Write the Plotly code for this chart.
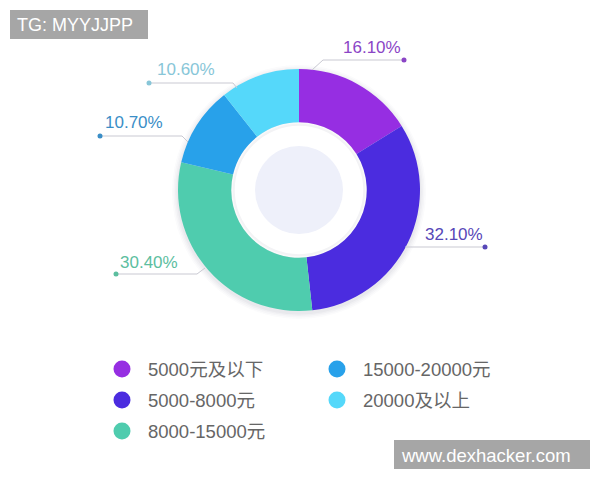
import plotly.graph_objects as go

categories = ["5000元及以下", "5000-8000元", "8000-15000元", "15000-20000元", "20000及以上"]
values = [16.10, 32.10, 30.40, 10.70, 10.60]
label_texts = ["16.10%", "32.10%", "30.40%", "10.70%", "10.60%"]

slice_colors = ["#962EE2", "#4B2CDF", "#4FCCAE", "#28A1EA", "#55D8FA"]
label_colors = ["#8B45C6", "#5747B8", "#5CBE9F", "#3A8EC7", "#88C6D8"]

W, H = 600, 480
OFF = 8  # page body margin
CX, CY, R = 299, 190, 121
HOLE = 0.56


def px(x):
    return (x - OFF) / W


def py(y):
    return 1 - (y - OFF) / H


def circle(cx, cy, r, color, layer="above"):
    return dict(type="circle", xref="paper", yref="paper", layer=layer,
                x0=px(cx - r), x1=px(cx + r), y0=py(cy + r), y1=py(cy - r),
                fillcolor=color, line=dict(width=0))


fig = go.Figure()
fig.add_trace(go.Pie(
    labels=categories, values=values, sort=False, direction="clockwise", rotation=0,
    hole=HOLE, marker=dict(colors=slice_colors, line=dict(width=0)),
    textinfo="none", hoverinfo="label+percent", showlegend=False,
    domain=dict(x=[px(CX - R), px(CX + R)], y=[py(CY + R), py(CY - R)]),
))

shapes = []
# soft shadow around the donut
for i, a in enumerate([0.02, 0.025, 0.03, 0.035]):
    rr = R + 6 - i * 1.5
    shapes.append(circle(CX, CY + 2, rr, f"rgba(60,60,90,{a})", "below"))
rh = R * HOLE
shapes.append(circle(CX, CY, rh, "white", "below"))
# faint inner shadow at ring's inner edge
for i, a in enumerate([0.03, 0.03]):
    shapes.append(circle(CX, CY, rh - i * 1.5, f"rgba(60,60,90,{a})", "below"))
shapes.append(circle(CX, CY, rh - 3.5, "white", "below"))
# inner pale disc
shapes.append(circle(CX, CY, 44, "#EEF0FA", "above"))

# leader lines: (start point, elbow, dot end), text anchor
leaders = [
    dict(p=[(312, 70), (323, 60), (404, 60)], t=(403, 47), xa="right"),
    dict(p=[(405, 247), (405, 247), (485, 247)], t=(485, 234), xa="right"),
    dict(p=[(205, 268), (197, 274), (116, 274)], t=(118, 262), xa="left"),
    dict(p=[(188, 142), (182, 136), (100, 136)], t=(103, 122), xa="left"),
    dict(p=[(237, 88), (233, 83), (149, 83)], t=(155, 69), xa="left"),
]

annotations = []
for i, ld in enumerate(leaders):
    pts = ld["p"]
    path = "M " + " L ".join(f"{px(x)},{py(y)}" for x, y in pts)
    shapes.append(dict(type="path", xref="paper", yref="paper", path=path,
                       line=dict(color="#C9C9D2", width=1)))
    ex, ey = pts[-1]
    shapes.append(circle(ex, ey, 2.5, label_colors[i]))
    tx, ty = ld["t"]
    annotations.append(dict(x=px(tx), y=py(ty), xref="paper", yref="paper",
                            text=label_texts[i], showarrow=False, xanchor=ld["xa"],
                            yanchor="middle",
                            font=dict(size=17, color=label_colors[i], family="Liberation Sans")))

# legend
legend_pos = [(122, 369), (122, 400), (122, 431), (337, 369), (337, 400)]
for i, cat in enumerate(categories):
    mx, my = legend_pos[i]
    shapes.append(circle(mx, my, 8.5, slice_colors[i]))
    annotations.append(dict(x=px(mx + 24), y=py(my), xref="paper", yref="paper",
                            text=cat, showarrow=False, xanchor="left", yanchor="middle",
                            font=dict(size=18.5, color="#666666",
                                      family="Liberation Sans, Noto Sans CJK SC")))

# watermarks
shapes.append(dict(type="rect", xref="paper", yref="paper", x0=px(10), x1=px(148),
                   y0=py(39), y1=py(10), fillcolor="#A6A6A6", line=dict(width=0)))
annotations.append(dict(x=px(15), y=py(25), xref="paper", yref="paper", text="TG: MYYJJPP",
                        showarrow=False, xanchor="left", yanchor="middle",
                        font=dict(size=18, color="white", family="Liberation Sans")))
shapes.append(dict(type="rect", xref="paper", yref="paper", x0=px(394), x1=px(590),
                   y0=py(469), y1=py(440), fillcolor="#A6A6A6", line=dict(width=0)))
annotations.append(dict(x=px(399), y=py(455), xref="paper", yref="paper", text="www.dexhacker.com",
                        showarrow=False, xanchor="left", yanchor="middle",
                        font=dict(size=18.5, color="white", family="Liberation Sans")))

fig.update_layout(width=W, height=H, margin=dict(l=0, r=0, t=0, b=0),
                  paper_bgcolor="white", plot_bgcolor="white",
                  shapes=shapes, annotations=annotations)
fig.write_html("out.html")
